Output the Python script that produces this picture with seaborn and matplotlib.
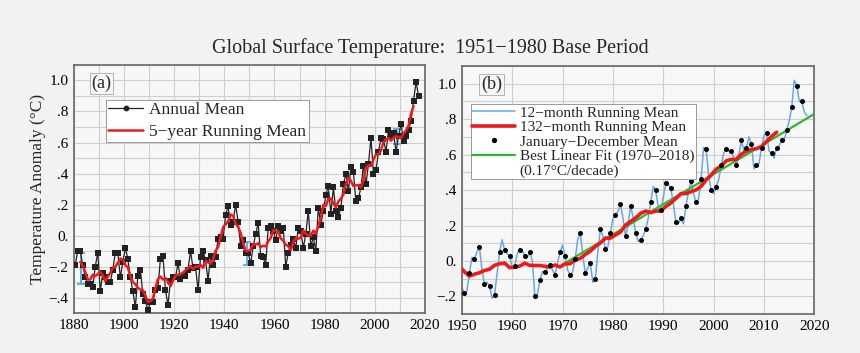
import numpy as np
import pandas as pd
import matplotlib
matplotlib.use("Agg")
import matplotlib.pyplot as plt
import seaborn as sns
from matplotlib.ticker import MultipleLocator, FixedLocator
from matplotlib.lines import Line2D

# GISTEMP annual (Jan-Dec) means, 1951-1980 base
years = list(range(1880, 2018))
annual_mean = [
    -0.19, -0.10, -0.10, -0.19, -0.27, -0.31, -0.31, -0.33, -0.20, -0.11,
    -0.36, -0.24, -0.27, -0.30, -0.30, -0.22, -0.11, -0.11, -0.27, -0.17,
    -0.08, -0.15, -0.27, -0.36, -0.46, -0.26, -0.22, -0.38, -0.42, -0.48,
    -0.43, -0.43, -0.35, -0.34, -0.15, -0.13, -0.35, -0.45, -0.29, -0.27,
    -0.27, -0.18, -0.28, -0.26, -0.26, -0.22, -0.10, -0.21, -0.20, -0.35,
    -0.14, -0.10, -0.16, -0.29, -0.13, -0.19, -0.14, -0.02, -0.01, -0.02,
    0.13, 0.19, 0.07, 0.09, 0.20, 0.09, -0.07, -0.03, -0.11, -0.11,
    -0.18, -0.07, 0.01, 0.08, -0.13, -0.14, -0.19, 0.05, 0.06, 0.03,
    -0.03, 0.06, 0.03, 0.05, -0.20, -0.11, -0.06, -0.02, -0.08, 0.05,
    0.03, -0.08, 0.01, 0.16, -0.07, -0.01, -0.10, 0.18, 0.07, 0.16,
    0.26, 0.32, 0.14, 0.31, 0.16, 0.12, 0.18, 0.33, 0.40, 0.29,
    0.44, 0.41, 0.22, 0.24, 0.31, 0.45, 0.33, 0.46, 0.63, 0.40,
    0.42, 0.54, 0.63, 0.62, 0.54, 0.68, 0.64, 0.66, 0.54, 0.64,
    0.72, 0.61, 0.64, 0.68, 0.74, 0.87, 0.99, 0.90,
]

# 12-month running mean, read every half year starting 1950.0
running_12m_start = 1950.0
running_12m = [
    -0.15, -0.18, -0.17, -0.07, 0.02, 0.01, 0.05, 0.08, -0.05, -0.13,
    -0.12, -0.14, -0.21, -0.19, -0.07, 0.05, 0.12, 0.06, 0.04, 0.03,
    -0.04, -0.03, 0.04, 0.07, 0.06, 0.03, 0.02, 0.05, 0.00, -0.20,
    -0.19, -0.11, -0.06, -0.06, -0.04, -0.02, -0.05, -0.08, -0.01, 0.05,
    0.09, 0.03, -0.05, -0.08, -0.06, 0.01, 0.12, 0.16, 0.04, -0.07,
    -0.04, -0.01, -0.12, -0.10, 0.05, 0.18, 0.14, 0.07, 0.08, 0.16,
    0.24, 0.26, 0.28, 0.32, 0.24, 0.14, 0.20, 0.31, 0.25, 0.16,
    0.11, 0.12, 0.14, 0.18, 0.24, 0.33, 0.42, 0.40, 0.30, 0.29,
    0.36, 0.44, 0.43, 0.41, 0.32, 0.22, 0.21, 0.24, 0.21, 0.31,
    0.39, 0.45, 0.38, 0.33, 0.35, 0.46, 0.64, 0.63, 0.48, 0.40,
    0.38, 0.42, 0.46, 0.54, 0.61, 0.63, 0.62, 0.62, 0.58, 0.54,
    0.60, 0.68, 0.62, 0.64, 0.70, 0.66, 0.52, 0.54, 0.55, 0.64,
    0.71, 0.72, 0.62, 0.61, 0.58, 0.64, 0.65, 0.68, 0.68, 0.74,
    0.79, 0.87, 1.02, 0.99, 0.90, 0.90, 0.84, 0.82,
]

# uncertainty bars shown in panel (a)
unc_years = [1883, 1949, 2009]
unc_center = [-0.21, -0.115, 0.64]
unc_half = [0.10, 0.075, 0.05]

# linear fit 1970-2018, 0.17 C/decade
fit_years = [1970, 2020]
fit_start_value = -0.02
fit_slope_per_decade = 0.17

sns.set_theme(style="whitegrid")
plt.rcParams["font.family"] = ["Liberation Serif", "DejaVu Serif"]
plt.rcParams["axes.unicode_minus"] = True

bg = "#f2f2f2"
fig = plt.figure(figsize=(8.6, 3.53), dpi=100, facecolor=bg)
ax_a = fig.add_axes([0.086, 0.113, 0.408, 0.703])
ax_b = fig.add_axes([0.537, 0.110, 0.410, 0.703])

df = pd.DataFrame({"year": years, "anom": annual_mean})
df["t"] = df["year"] + 0.5
df["run5"] = df["anom"].rolling(5, center=True).mean()
df["run11"] = df["anom"].rolling(11, center=True).mean()

df12 = pd.DataFrame({"anom": running_12m})
df12["t"] = running_12m_start + 0.5 * np.arange(len(df12))

fit_t = np.array(fit_years, dtype=float)
df_fit = pd.DataFrame({"t": fit_t,
                       "v": fit_start_value + fit_slope_per_decade / 10 * (fit_t - fit_years[0])})

blue = "#68a8e6"
red = "#ee1a1a"
green = "#2cb82c"


def style_axes(ax, xmin, xmax, xstep, ymin, ymax, yticks):
    ax.set_facecolor("#f7f7f7")
    ax.set_xlim(xmin, xmax)
    ax.set_ylim(ymin, ymax)
    ax.xaxis.set_major_locator(MultipleLocator(xstep))
    ax.xaxis.set_minor_locator(MultipleLocator(10))
    ax.yaxis.set_major_locator(FixedLocator(yticks))
    ax.yaxis.set_minor_locator(MultipleLocator(0.1))
    labels = []
    for v in yticks:
        if abs(v) < 1e-9:
            labels.append("0.")
        elif abs(v - 1.0) < 1e-9:
            labels.append("1.0")
        else:
            s = f"{abs(v):.1f}".lstrip("0")
            labels.append(("\u2212" if v < 0 else "") + s)
    ax.set_yticklabels(labels)
    ax.grid(which="both", color="#cfcfcf", linewidth=0.8)
    ax.set_axisbelow(True)
    for sp in ax.spines.values():
        sp.set_color("#666666")
        sp.set_linewidth(1.2)
    ax.tick_params(axis="both", labelsize=11, colors="black", length=0, pad=4)
    ax.set_xlabel("")
    ax.set_ylabel("")


# ---- panel (a)
ax_a.errorbar(unc_years, unc_center, yerr=unc_half, fmt="none",
              ecolor="#4aa3e0", elinewidth=1.2, capsize=3, capthick=1.2, zorder=2)
sns.lineplot(data=df, x="t", y="anom", ax=ax_a, color="#222222", linewidth=0.9,
             marker="s", markersize=3.8, markeredgewidth=0, zorder=3)
sns.lineplot(data=df.dropna(subset=["run5"]), x="t", y="run5", ax=ax_a,
             color=red, linewidth=1.8, zorder=4)
style_axes(ax_a, 1880, 2020, 20, -0.5, 1.1, [-0.4, -0.2, 0, 0.2, 0.4, 0.6, 0.8, 1.0])
ax_a.set_ylabel("Temperature Anomaly (\u00b0C)", fontsize=12.5, labelpad=2)
ax_a.text(0.05, 0.925, "(a)", transform=ax_a.transAxes, fontsize=13,
          va="center", ha="left",
          bbox=dict(boxstyle="square,pad=0.1", facecolor="#f7f7f7", edgecolor="#aaaaaa", linewidth=0.6))
handles_a = [
    Line2D([], [], color="#222222", linewidth=0.9, marker="o", markersize=3.2),
    Line2D([], [], color=red, linewidth=1.8),
]
leg_a = ax_a.legend(handles_a, ["Annual Mean", "5\u2212year Running Mean"],
                    loc="upper left", bbox_to_anchor=(0.09, 0.86), fontsize=12.5,
                    frameon=True, fancybox=False, framealpha=1, facecolor="white",
                    edgecolor="#999999", borderpad=0.15, labelspacing=0.3,
                    handlelength=2.0, handletextpad=0.35, borderaxespad=0)
leg_a.get_frame().set_linewidth(0.7)

# ---- panel (b)
sns.lineplot(data=df12, x="t", y="anom", ax=ax_b, color=blue, linewidth=1.1, zorder=2)
sns.lineplot(data=df_fit, x="t", y="v", ax=ax_b, color=green, linewidth=1.6, zorder=3)
sns.lineplot(data=df[(df["t"] >= 1949) & df["run11"].notna()], x="t", y="run11", ax=ax_b,
             color=red, linewidth=2.6, zorder=4)
sns.scatterplot(data=df[df["t"] >= 1950], x="t", y="anom", ax=ax_b, color="black",
                s=13, linewidth=0, zorder=5)
style_axes(ax_b, 1950, 2020, 10, -0.3, 1.1, [-0.2, 0, 0.2, 0.4, 0.6, 0.8, 1.0])
ax_b.text(0.055, 0.925, "(b)", transform=ax_b.transAxes, fontsize=13,
          va="center", ha="left",
          bbox=dict(boxstyle="square,pad=0.1", facecolor="#f7f7f7", edgecolor="#aaaaaa", linewidth=0.6))
handles_b = [
    Line2D([], [], color=blue, linewidth=1.1),
    Line2D([], [], color=red, linewidth=2.6),
    Line2D([], [], color="black", linestyle="none", marker="o", markersize=2.8),
    Line2D([], [], color=green, linewidth=1.6),
    Line2D([], [], linestyle="none"),
]
leg_b = ax_b.legend(handles_b, ["12\u2212month Running Mean", "132\u2212month Running Mean",
                                "January\u2212December Mean", "Best Linear Fit (1970\u20132018)",
                                "(0.17\u00b0C/decade)"],
                    loc="upper left", bbox_to_anchor=(0.025, 0.845), fontsize=11,
                    frameon=True, fancybox=False, framealpha=1, facecolor="white",
                    edgecolor="#999999", borderpad=0.1, labelspacing=0.05,
                    handlelength=2.8, handletextpad=0.3, borderaxespad=0)
leg_b.get_frame().set_linewidth(0.7)

fig.text(0.5, 0.865, "Global Surface Temperature:  1951\u22121980 Base Period",
         ha="center", va="center", fontsize=14.5)

fig.savefig("out.png", dpi=100, facecolor=bg)
